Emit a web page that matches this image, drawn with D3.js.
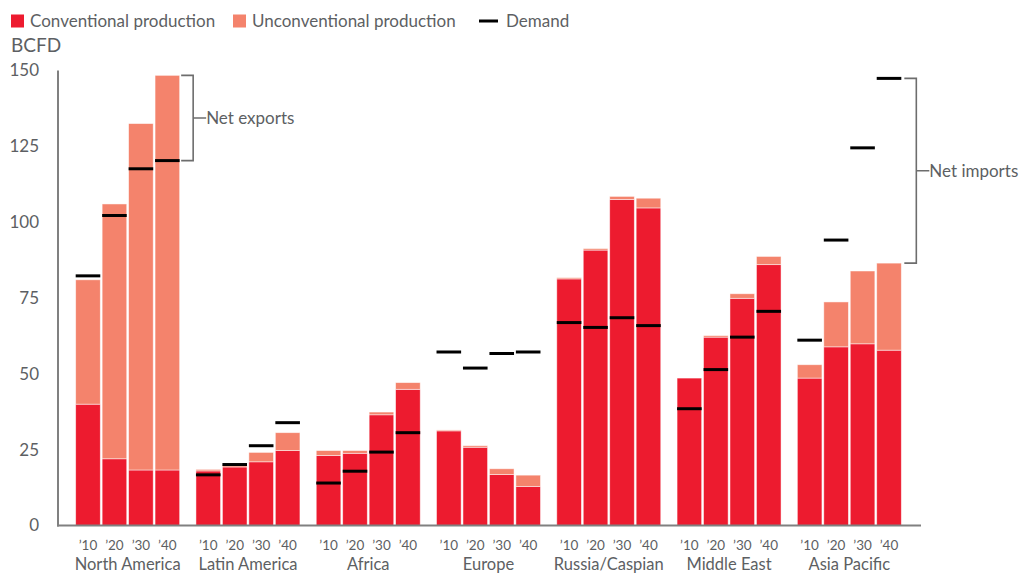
<!DOCTYPE html>
<html>
<head>
<meta charset="utf-8">
<script src="https://cdn.jsdelivr.net/npm/d3@7"></script>
<style>
  html, body { margin: 0; padding: 0; background: #fff; }
  svg { display: block; font-family: Lato, "Open Sans", sans-serif; }
</style>
</head>
<body>
<svg id="chart" width="1021" height="575"></svg>
<script>
// Gas production by type vs. demand, by region (BCFD)
const regions = ["North America", "Latin America", "Africa", "Europe",
                 "Russia/Caspian", "Middle East", "Asia Pacific"];
const years = ["’10", "’20", "’30", "’40"];

// Conventional production, one row per region, one value per year
const conventional = [
  [40.0, 22.0, 18.3, 18.3],
  [18.0, 19.3, 21.0, 24.7],
  [23.1, 23.8, 36.5, 44.9],
  [31.2, 25.8, 16.8, 12.9],
  [81.3, 90.8, 107.5, 104.7],
  [48.6, 62.1, 74.9, 86.0],
  [48.6, 58.9, 59.9, 57.8]
];

// Unconventional production, stacked on top of conventional
const unconventional = [
  [41.0, 84.0, 114.2, 130.1],
  [0.5, 0.7, 3.1, 5.9],
  [1.6, 0.9, 0.9, 2.2],
  [0.3, 0.5, 1.9, 3.7],
  [0.4, 0.5, 1.0, 3.2],
  [0.0, 0.5, 1.5, 2.7],
  [4.4, 14.8, 24.0, 28.7]
];

// Demand
const demand = [
  [82.3, 102.2, 117.6, 120.3],
  [16.7, 20.1, 26.3, 33.9],
  [14.0, 17.9, 24.2, 30.6],
  [57.2, 51.9, 56.7, 57.2],
  [66.9, 65.3, 68.5, 65.9],
  [38.5, 51.4, 62.1, 70.6],
  [61.1, 94.1, 124.5, 147.4]
];

const yTicks = [0, 25, 50, 75, 100, 125, 150];

const colors = { conv: "#ED1B2F", unconv: "#F4836C", demand: "#000", text: "#5d5f63", axis: "#808080" };

const svg = d3.select("#chart");

const x0 = d3.scaleBand().domain(regions).range([58, 919]).paddingInner(0.1355).paddingOuter(0.147);
const x1 = d3.scaleBand().domain(years).range([0, x0.bandwidth()]).paddingInner(0.07);
const y = d3.scaleLinear().domain([0, 150]).range([525.5, 70.5]);

// Legend
const legend = svg.append("g").attr("font-size", 17).attr("fill", colors.text);
legend.append("rect").attr("x", 11).attr("y", 14.5).attr("width", 13).attr("height", 13).attr("fill", colors.conv);
legend.append("text").attr("x", 30).attr("y", 21).attr("dy", "0.35em").text("Conventional production");
legend.append("rect").attr("x", 233).attr("y", 14.5).attr("width", 13).attr("height", 13).attr("fill", colors.unconv);
legend.append("text").attr("x", 252).attr("y", 21).attr("dy", "0.35em").text("Unconventional production");
legend.append("line").attr("x1", 479).attr("x2", 498).attr("y1", 21).attr("y2", 21)
  .attr("stroke", colors.demand).attr("stroke-width", 3);
legend.append("text").attr("x", 506).attr("y", 21).attr("dy", "0.35em").text("Demand");

svg.append("text").attr("x", 11).attr("y", 45.5).attr("dy", "0.35em")
  .attr("font-size", 19).attr("fill", colors.text).text("BCFD");

// Y axis labels
svg.append("g").selectAll("text").data(yTicks).join("text")
  .attr("x", 39).attr("y", d => y(d)).attr("dy", "0.35em")
  .attr("text-anchor", "end").attr("font-size", 17).attr("fill", colors.text)
  .text(d => d);

// Bars
const groups = svg.append("g").selectAll("g").data(regions).join("g")
  .attr("transform", d => `translate(${x0(d)},0)`);

groups.each(function (region, ri) {
  const g = d3.select(this);
  years.forEach((yr, yi) => {
    const c = conventional[ri][yi];
    const u = unconventional[ri][yi];
    const bx = x1(yr), bw = x1.bandwidth();
    g.append("rect").attr("x", bx).attr("width", bw)
      .attr("y", y(c)).attr("height", y(0) - y(c))
      .attr("fill", colors.conv).attr("stroke", "#fff").attr("stroke-opacity", 0.6).attr("stroke-width", 0.8);
    if (u > 0) {
      g.append("rect").attr("x", bx).attr("width", bw)
        .attr("y", y(c + u)).attr("height", y(c) - y(c + u))
        .attr("fill", colors.unconv).attr("stroke", "#fff").attr("stroke-opacity", 0.6).attr("stroke-width", 0.8);
    }
    g.append("line").attr("x1", bx).attr("x2", bx + bw)
      .attr("y1", y(demand[ri][yi])).attr("y2", y(demand[ri][yi]))
      .attr("stroke", colors.demand).attr("stroke-width", 3);
  });
});

// Axes lines
svg.append("line").attr("x1", 58).attr("x2", 58).attr("y1", y(150)).attr("y2", y(0) + 1)
  .attr("stroke", colors.axis).attr("stroke-width", 2);
svg.append("line").attr("x1", 57).attr("x2", 921).attr("y1", y(0)).attr("y2", y(0))
  .attr("stroke", colors.axis).attr("stroke-width", 2);

// Category labels
const labels = svg.append("g").attr("fill", colors.text);
regions.forEach(region => {
  years.forEach(yr => {
    labels.append("text").attr("x", x0(region) + x1(yr) + x1.bandwidth() / 2).attr("y", 545)
      .attr("dy", "0.35em").attr("text-anchor", "middle").attr("font-size", 13.5).text(yr);
  });
  labels.append("text").attr("x", x0(region) + x0.bandwidth() / 2).attr("y", 564.5)
    .attr("dy", "0.35em").attr("text-anchor", "middle").attr("font-size", 16.5).text(region);
});

// Brackets for net exports / net imports
function bracket(xLeft, yA, yB, label) {
  const xV = xLeft + 12;
  const mid = (yA + yB) / 2;
  svg.append("path")
    .attr("d", `M${xLeft},${yA}H${xV}V${yB}H${xLeft}M${xV},${mid}H${xV + 13}`)
    .attr("fill", "none").attr("stroke", "#6d6d6d").attr("stroke-width", 1.6);
  svg.append("text").attr("x", xV + 13).attr("y", mid).attr("dy", "0.35em")
    .attr("font-size", 17).attr("fill", colors.text).text(label);
}

const na = 0, ap = 6, last = 3;
const naRight = x0(regions[na]) + x1(years[last]) + x1.bandwidth();
bracket(naRight + 1.5, y(conventional[na][last] + unconventional[na][last]), y(demand[na][last]), "Net exports");
const apRight = x0(regions[ap]) + x1(years[last]) + x1.bandwidth();
bracket(apRight + 3, y(demand[ap][last]), y(conventional[ap][last] + unconventional[ap][last]), "Net imports");
</script>
</body>
</html>
